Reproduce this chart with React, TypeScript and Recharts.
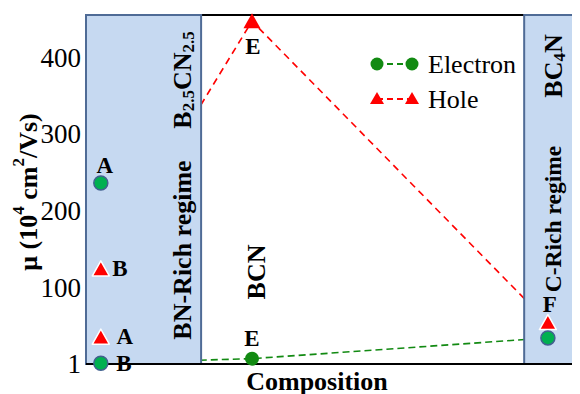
import {
  Line,
  ReferenceArea,
  ReferenceLine,
  Scatter,
  ComposedChart,
  XAxis,
  YAxis,
} from "recharts";

// samples: A, B (BN-rich), E (BCN), F (BC4N)
const sampleNames = ["A", "B", "E", "F"];
const sampleX = [0.3, 0.3, 3.36, 9.35];
const electronMobility = [236, 1, 7, 34];
const holeMobility = [35, 124, 447, 54];
// samples joined by the dashed lines
const linkedSamples = ["B", "E", "F"];

const bnRichRange = [0, 2.33];
const cRichRange = [8.87, 10];
const yTicks = [1, 100, 200, 300, 400];
const yMax = 455;

const FONT = "'Liberation Serif', 'Times New Roman', serif";
const GREEN = "#128a12";
const RED = "#ff0000";

const electronPoints = sampleNames.map((name, i) => ({
  name,
  x: sampleX[i],
  y: electronMobility[i],
}));
const holePoints = sampleNames.map((name, i) => ({
  name,
  x: sampleX[i],
  y: holeMobility[i],
}));
const electronLine = electronPoints.filter((p) => linkedSamples.includes(p.name));
const holeLine = holePoints.filter((p) => linkedSamples.includes(p.name));

const electronLabelOffset: Record<string, [number, number]> = {
  A: [4, -17],
  B: [23, 0],
  E: [0, -20],
};
const holeLabelOffset: Record<string, [number, number]> = {
  A: [24, -1],
  B: [19, 0],
  E: [1, 25],
  F: [2, -18],
};

function inBox(x: number) {
  return x < bnRichRange[1] || x > cRichRange[0];
}

function PointLabel({ x, y, text }: { x: number; y: number; text: string }) {
  return (
    <text
      x={x}
      y={y}
      textAnchor="middle"
      dominantBaseline="central"
      fontFamily={FONT}
      fontWeight="bold"
      fontSize={23}
      fill="#000"
    >
      {text}
    </text>
  );
}

function ElectronShape(props: any) {
  const { cx, cy, payload } = props;
  const boxed = inBox(payload.x);
  const off = electronLabelOffset[payload.name];
  return (
    <g>
      <circle
        cx={cx}
        cy={cy}
        r={7}
        fill={boxed ? "#00b050" : GREEN}
        stroke={boxed ? "#41608f" : "none"}
        strokeWidth={1.5}
      />
      {off ? <PointLabel x={cx + off[0]} y={cy + off[1]} text={payload.name} /> : null}
    </g>
  );
}

function HoleShape(props: any) {
  const { cx, cy, payload } = props;
  const boxed = inBox(payload.x);
  const off = holeLabelOffset[payload.name];
  const pts = `${cx},${cy - 8} ${cx + 8.5},${cy + 7} ${cx - 8.5},${cy + 7}`;
  return (
    <g>
      <polygon
        points={pts}
        fill={RED}
        stroke={boxed ? "#ffffff" : "none"}
        strokeWidth={1.5}
        strokeLinejoin="round"
      />
      {off ? <PointLabel x={cx + off[0]} y={cy + off[1]} text={payload.name} /> : null}
    </g>
  );
}

function Overlay() {
  const bold = { fontFamily: FONT, fontWeight: "bold" as const, fontSize: 26, fill: "#000" };
  const vertical = (x: number, y: number) => `translate(${x},${y}) rotate(-90)`;
  return (
    <svg
      width={572}
      height={386}
      style={{ position: "absolute", left: 0, top: 0, pointerEvents: "none" }}
    >
      <text {...bold} transform={vertical(20, 184)} textAnchor="middle" dominantBaseline="central">
        μ (10<tspan fontSize={17} dy={-10}>4</tspan>
        <tspan dy={10}> cm</tspan>
        <tspan fontSize={17} dy={-10}>2</tspan>
        <tspan dy={10}>/Vs)</tspan>
      </text>
      <text {...bold} x={309} y={373} textAnchor="middle" dominantBaseline="central">
        Composition
      </text>
      <text {...bold} transform={vertical(174, 72)} textAnchor="middle" dominantBaseline="central">
        B<tspan fontSize={17} dy={6}>2.5</tspan>
        <tspan dy={-6}>CN</tspan>
        <tspan fontSize={17} dy={6}>2.5</tspan>
      </text>
      <text {...bold} transform={vertical(174, 242)} textAnchor="middle" dominantBaseline="central">
        BN-Rich regime
      </text>
      <text {...bold} transform={vertical(248, 264)} textAnchor="middle" dominantBaseline="central">
        BCN
      </text>
      <text
        {...bold}
        fontSize={23.5}
        transform={vertical(545, 211)}
        textAnchor="middle"
        dominantBaseline="central"
      >
        C-Rich regime
      </text>
      <text {...bold} transform={vertical(545, 58)} textAnchor="middle" dominantBaseline="central">
        BC<tspan fontSize={17} dy={6}>4</tspan>
        <tspan dy={-6}>N</tspan>
      </text>

      {/* legend */}
      <line x1={369} y1={56} x2={404} y2={56} stroke={GREEN} strokeWidth={2} strokeDasharray="6 4" />
      <circle cx={369} cy={56} r={6.5} fill={GREEN} />
      <circle cx={404} cy={56} r={6.5} fill={GREEN} />
      <text x={420} y={56} fontFamily={FONT} fontSize={26} dominantBaseline="central">
        Electron
      </text>
      <line x1={369} y1={91} x2={404} y2={91} stroke={RED} strokeWidth={2} strokeDasharray="6 4" />
      <polygon points="369,84 376,96 362,96" fill={RED} />
      <polygon points="404,84 411,96 397,96" fill={RED} />
      <text x={420} y={91} fontFamily={FONT} fontSize={26} dominantBaseline="central">
        Hole
      </text>
    </svg>
  );
}

export default function App() {
  return (
    <div style={{ position: "relative", width: 572, height: 386 }}>
      <ComposedChart width={572} height={386} margin={{ top: 7, right: 0, bottom: 0, left: 0 }}>
        <XAxis
          type="number"
          dataKey="x"
          domain={[0, 10]}
          tick={false}
          tickLine={false}
          axisLine={{ stroke: "#000", strokeWidth: 2 }}
          height={30}
        />
        <YAxis
          type="number"
          dataKey="y"
          domain={[0, yMax]}
          ticks={yTicks}
          interval={0}
          tickLine={false}
          tickSize={0}
          tickMargin={5}
          axisLine={false}
          width={78}
          tick={{ fontFamily: FONT, fontSize: 27, fill: "#000" }}
        />
        <Line
          data={electronLine}
          dataKey="y"
          type="linear"
          stroke={GREEN}
          strokeWidth={1.6}
          strokeDasharray="7 4"
          dot={false}
          activeDot={false}
          isAnimationActive={false}
          zIndex={400}
        />
        <Line
          data={holeLine}
          dataKey="y"
          type="linear"
          stroke={RED}
          strokeWidth={1.6}
          strokeDasharray="7 5"
          dot={false}
          activeDot={false}
          isAnimationActive={false}
          zIndex={400}
        />
        <ReferenceLine
          segment={[
            { x: bnRichRange[0], y: yMax },
            { x: cRichRange[0], y: yMax },
          ]}
          stroke="#000"
          strokeWidth={2}
          zIndex={420}
        />
        <ReferenceArea
          x1={bnRichRange[0]}
          x2={bnRichRange[1]}
          y1={0}
          y2={yMax}
          fill="#c6d9f1"
          fillOpacity={1}
          stroke="#4f6b96"
          strokeWidth={2}
          zIndex={450}
        />
        <ReferenceArea
          x1={cRichRange[0]}
          x2={cRichRange[1]}
          y1={0}
          y2={yMax}
          fill="#c6d9f1"
          fillOpacity={1}
          stroke="#4f6b96"
          strokeWidth={2}
          zIndex={450}
        />
        <Scatter data={holePoints} dataKey="y" shape={HoleShape} isAnimationActive={false} zIndex={600} />
        <Scatter data={electronPoints} dataKey="y" shape={ElectronShape} isAnimationActive={false} zIndex={600} />
      </ComposedChart>
      <Overlay />
    </div>
  );
}
